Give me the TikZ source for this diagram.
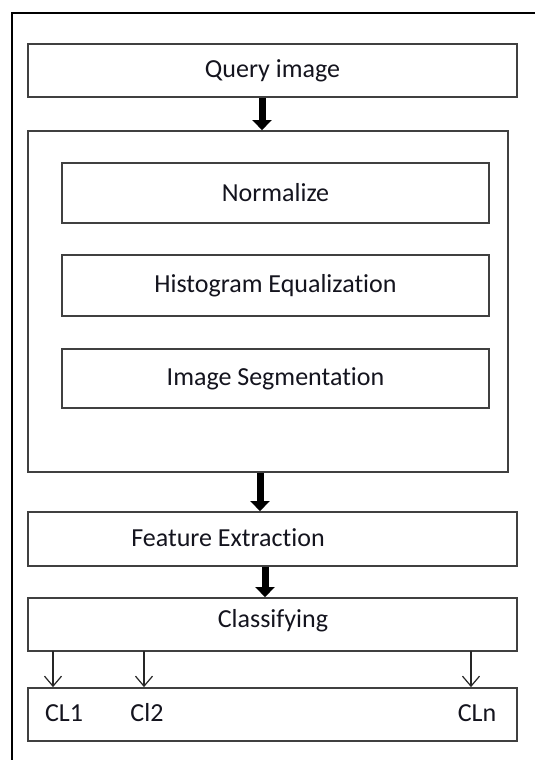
\documentclass[tikz,border=0pt]{standalone}
\usepackage{fontspec}
\setmainfont{Carlito}[Ligatures={NoCommon}]
\usetikzlibrary{arrows.meta}
\definecolor{inkgray}{HTML}{14141E}
\definecolor{framegray}{HTML}{404040}
\tikzset{
  x=1pt, y=-1pt,
  every node/.style={font=\fontsize{26}{30}\selectfont, text=inkgray},
  box/.style={draw=framegray, line width=1.8pt, rectangle, inner sep=0pt, anchor=center},
  bigarrow/.style={line width=7pt, -{Triangle[width=19pt,length=10pt]}},
  smallarrow/.style={line width=1.2pt, draw=black!85, -{Straight Barb[width=17pt,length=10pt,line width=1.2pt]}},
  plain/.style={inner sep=0pt, anchor=center}
}
\begin{document}
\begin{tikzpicture}
\useasboundingbox (0,0) rectangle (535,760);
\fill[white] (0,0) rectangle (535,760);

% outer frame (runs off the page on the right and bottom)
\draw[line width=1.6pt, black] (12,770) -- (12,13) -- (545,13);

% main pipeline
\node[box, minimum width=489pt, minimum height=53pt] (query) at (272.5,70.5) {Query image};
\node[box, minimum width=480pt, minimum height=341pt] (pre) at (268,301.5) {};
\node[box, minimum width=427pt, minimum height=60pt] (norm) at (275.5,193) {Normalize};
\node[box, minimum width=427pt, minimum height=61pt] (hist) at (275.5,285.5) {Histogram Equalization};
\node[box, minimum width=427pt, minimum height=59pt] (seg) at (275.5,378.5) {Image Segmentation};
\node[box, minimum width=489pt, minimum height=54pt] (feat) at (272.5,539) {};
\node[plain] (featlabel) at (228,538) {Feature Extraction};
\node[box, minimum width=489pt, minimum height=53pt] (cls) at (272.5,624.5) {};
\node[plain] (clslabel) at (273,621) {Classifying};
\node[box, minimum width=489pt, minimum height=53pt] (out) at (272.5,714.5) {};
\node[plain] (cl1) at (64,713) {CL1};
\node[plain] (cl2) at (147,713) {Cl2};
\node[plain] (cln) at (477,713) {CLn};

% thick flow arrows
\draw[bigarrow] ([xshift=-10.5pt]query.south) -- ([xshift=-10.5pt]query.south |- pre.north);
\draw[bigarrow] ([xshift=-8pt]pre.south) -- ([xshift=-8pt]pre.south |- feat.north);
\draw[bigarrow] ([xshift=-7.5pt]feat.south) -- ([xshift=-7.5pt]feat.south |- cls.north);

% class outputs
\coordinate (o1) at (53,651);
\coordinate (o2) at (144,651);
\coordinate (on) at (471,651);
\draw[smallarrow] (o1) -- (o1 |- out.north);
\draw[smallarrow] (o2) -- (o2 |- out.north);
\draw[smallarrow] (on) -- (on |- out.north);
\end{tikzpicture}
\end{document}
